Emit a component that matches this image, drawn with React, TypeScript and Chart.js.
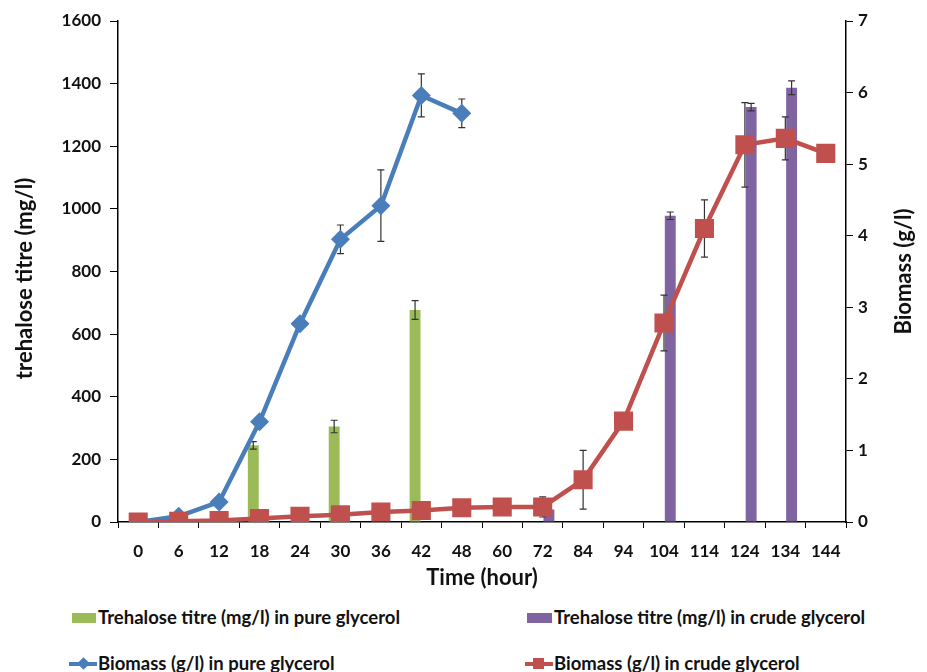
import React, { useEffect, useRef } from "react";
import { Chart, registerables } from "chart.js";

Chart.register(...registerables);

const categories = ["0", "6", "12", "18", "24", "30", "36", "42", "48", "60", "72", "84", "94", "104", "114", "124", "134", "144"];

const trehalosePure = [null, null, null, 245, null, 305, null, 677, null, null, null, null, null, null, null, null, null, null];
const trehalosePureErr = [0, 0, 0, 12, 0, 20, 0, 30, 0, 0, 0, 0, 0, 0, 0, 0, 0, 0];

const trehaloseCrude = [null, null, null, null, null, null, null, null, null, null, 40, null, null, 978, null, 1325, 1387, null];
const trehaloseCrudeErr = [0, 0, 0, 0, 0, 0, 0, 0, 0, 0, 0, 0, 0, 12, 0, 12, 22, 0];

const biomassPure = [0, 0.08, 0.28, 1.4, 2.77, 3.95, 4.42, 5.96, 5.71, null, null, null, null, null, null, null, null, null];
const biomassPureErr = [0, 0, 0, 0, 0, 0.2, 0.5, 0.3, 0.2, 0, 0, 0, 0, 0, 0, 0, 0, 0];

const biomassCrude = [0, 0.01, 0.02, 0.05, 0.08, 0.1, 0.14, 0.16, 0.2, 0.21, 0.21, 0.59, 1.41, 2.78, 4.1, 5.27, 5.36, 5.15];
const biomassCrudeErr = [0, 0, 0, 0, 0, 0, 0, 0, 0, 0, 0.14, 0.41, 0, 0.39, 0.4, 0.59, 0.3, 0];

const leftTicks = [0, 200, 400, 600, 800, 1000, 1200, 1400, 1600];
const rightTicks = [0, 1, 2, 3, 4, 5, 6, 7];

const GREEN = "#9BBB59";
const PURPLE = "#8064A2";
const BLUE = "#4A7EBB";
const RED = "#C0504D";
const FONT = "Lato, 'Open Sans', sans-serif";

const ERRORS: (number[] | null)[] = [trehalosePureErr, trehaloseCrudeErr, biomassPureErr, biomassCrudeErr];

function drawErrors(chart: any, di: number) {
  const errs = ERRORS[di];
  if (!errs) return;
  const ds = chart.data.datasets[di];
  const meta = chart.getDatasetMeta(di);
  const scale = chart.scales[meta.yAxisID];
  const ctx = chart.ctx;
  ctx.save();
  ctx.strokeStyle = "#333";
  ctx.lineWidth = 1.2;
  meta.data.forEach((el: any, i: number) => {
    const v = ds.data[i];
    const e = errs[i];
    if (v == null || !e) return;
    const x = el.x;
    const yT = scale.getPixelForValue(v + e);
    const yB = scale.getPixelForValue(v - e);
    ctx.beginPath();
    ctx.moveTo(x, yT);
    ctx.lineTo(x, yB);
    ctx.moveTo(x - 3.5, yT);
    ctx.lineTo(x + 3.5, yT);
    ctx.moveTo(x - 3.5, yB);
    ctx.lineTo(x + 3.5, yB);
    ctx.stroke();
  });
  ctx.restore();
}

const errorBarPlugin = {
  id: "errorBars",
  beforeDatasetDraw(chart: any, args: any) {
    if (args.meta.type === "line") drawErrors(chart, args.index);
  },
  afterDatasetDraw(chart: any, args: any) {
    if (args.meta.type === "bar") drawErrors(chart, args.index);
  },
};

const axisTitlesPlugin = {
  id: "axisTitles",
  afterDraw(chart: any) {
    const ctx = chart.ctx;
    const area = chart.chartArea;
    const mid = (area.top + area.bottom) / 2;
    ctx.save();
    ctx.font = `bold 22px ${FONT}`;
    ctx.fillStyle = "#111";
    ctx.textAlign = "center";
    ctx.textBaseline = "middle";
    ctx.save();
    ctx.translate(25, mid + 7);
    ctx.rotate(-Math.PI / 2);
    ctx.fillText("trehalose titre (mg/l)", 0, 0);
    ctx.restore();
    ctx.save();
    ctx.translate(904, mid);
    ctx.rotate(-Math.PI / 2);
    ctx.fillText("Biomass (g/l)", 0, 0);
    ctx.restore();
    ctx.restore();
  },
};

export default function App() {
  const ref = useRef<HTMLCanvasElement | null>(null);

  useEffect(() => {
    if (!ref.current) return;
    const chart = new Chart(ref.current, {
      type: "bar",
      data: {
        labels: categories,
        datasets: [
          {
            type: "bar",
            label: "Trehalose titre (mg/l) in pure glycerol",
            data: trehalosePure as any,
            backgroundColor: GREEN,
            yAxisID: "y",
            order: 3,
            categoryPercentage: 0.62,
            barPercentage: 0.87,
          },
          {
            type: "bar",
            label: "Trehalose titre (mg/l) in crude glycerol",
            data: trehaloseCrude as any,
            backgroundColor: PURPLE,
            yAxisID: "y",
            order: 3,
            categoryPercentage: 0.62,
            barPercentage: 0.87,
          },
          {
            type: "line",
            label: "Biomass (g/l) in pure glycerol",
            data: biomassPure as any,
            borderColor: BLUE,
            backgroundColor: BLUE,
            borderWidth: 4.5,
            pointStyle: "rectRot",
            pointRadius: 9.5,
            pointBorderWidth: 0,
            yAxisID: "y1",
            order: 2,
            spanGaps: false,
          } as any,
          {
            type: "line",
            label: "Biomass (g/l) in crude glycerol",
            data: biomassCrude as any,
            borderColor: RED,
            backgroundColor: RED,
            borderWidth: 4.5,
            pointStyle: "rect",
            pointRadius: 13.5,
            pointBorderWidth: 0,
            yAxisID: "y1",
            order: 1,
          } as any,
        ],
      },
      options: {
        animation: false,
        responsive: true,
        maintainAspectRatio: false,
        layout: { padding: { top: 21, left: 0, right: 0, bottom: 0 } },
        plugins: { legend: { display: false }, tooltip: { enabled: false } },
        scales: {
          x: {
            offset: true,
            grid: { display: true, drawOnChartArea: false, drawTicks: true, tickLength: 6, color: "#000", offset: true },
            border: { display: true, color: "#000", width: 1.5 },
            ticks: { color: "#111", font: { family: FONT, size: 17, weight: "bold" }, padding: 13, maxRotation: 0, autoSkip: false },
            title: { display: true, text: "Time (hour)", color: "#111", font: { family: FONT, size: 22, weight: "bold" }, padding: { top: 0, bottom: 9 } },
            afterFit: (s: any) => { s.height = 78; },
          },
          y: {
            position: "left",
            min: 0,
            max: 1600,
            afterBuildTicks: (s: any) => { s.ticks = leftTicks.map((v) => ({ value: v })); },
            grid: { display: true, drawOnChartArea: false, drawTicks: true, tickLength: 8, color: "#000" },
            border: { display: true, color: "#000", width: 1.5 },
            ticks: { color: "#111", font: { family: FONT, size: 17, weight: "bold" }, padding: 9, callback: (v: any) => String(v) },
            afterFit: (s: any) => { s.width = 118; },
          },
          y1: {
            position: "right",
            min: 0,
            max: 7,
            afterBuildTicks: (s: any) => { s.ticks = rightTicks.map((v) => ({ value: v })); },
            grid: { display: true, drawOnChartArea: false, drawTicks: true, tickLength: 7, color: "#000" },
            border: { display: true, color: "#000", width: 1.5 },
            ticks: { color: "#111", font: { family: FONT, size: 17, weight: "bold" }, padding: 5, callback: (v: any) => String(v) },
            afterFit: (s: any) => { s.width = 81; },
          },
        },
      } as any,
      plugins: [errorBarPlugin, axisTitlesPlugin],
    });
    return () => chart.destroy();
  }, []);

  const legendText: React.CSSProperties = {
    position: "absolute",
    fontFamily: FONT,
    fontSize: 18.5,
    fontWeight: "bold",
    color: "#111",
    lineHeight: "22px",
    whiteSpace: "nowrap",
  };

  return (
    <div style={{ position: "absolute", left: 0, top: 0, width: 927, height: 672, background: "#fff" }}>
      <div style={{ position: "absolute", left: 0, top: 0, width: 927, height: 600 }}>
        <canvas ref={ref} />
      </div>
      {/* legend row 1 */}
      <div style={{ position: "absolute", left: 72, top: 613, width: 24, height: 10, background: GREEN }} />
      <div style={{ ...legendText, left: 98, top: 606 }}>Trehalose titre (mg/l) in pure glycerol</div>
      <div style={{ position: "absolute", left: 527, top: 613, width: 25, height: 10, background: PURPLE }} />
      <div style={{ ...legendText, left: 554, top: 606 }}>Trehalose titre (mg/l) in crude glycerol</div>
      {/* legend row 2 */}
      <div style={{ position: "absolute", left: 69, top: 662, width: 28, height: 4, background: BLUE }} />
      <div style={{ position: "absolute", left: 79, top: 659, width: 9, height: 9, background: BLUE, transform: "rotate(45deg)" }} />
      <div style={{ ...legendText, left: 98, top: 652 }}>Biomass (g/l) in pure glycerol</div>
      <div style={{ position: "absolute", left: 525, top: 662, width: 28, height: 4, background: RED }} />
      <div style={{ position: "absolute", left: 533, top: 658, width: 11, height: 11, background: RED }} />
      <div style={{ ...legendText, left: 554, top: 652 }}>Biomass (g/l) in crude glycerol</div>
    </div>
  );
}
